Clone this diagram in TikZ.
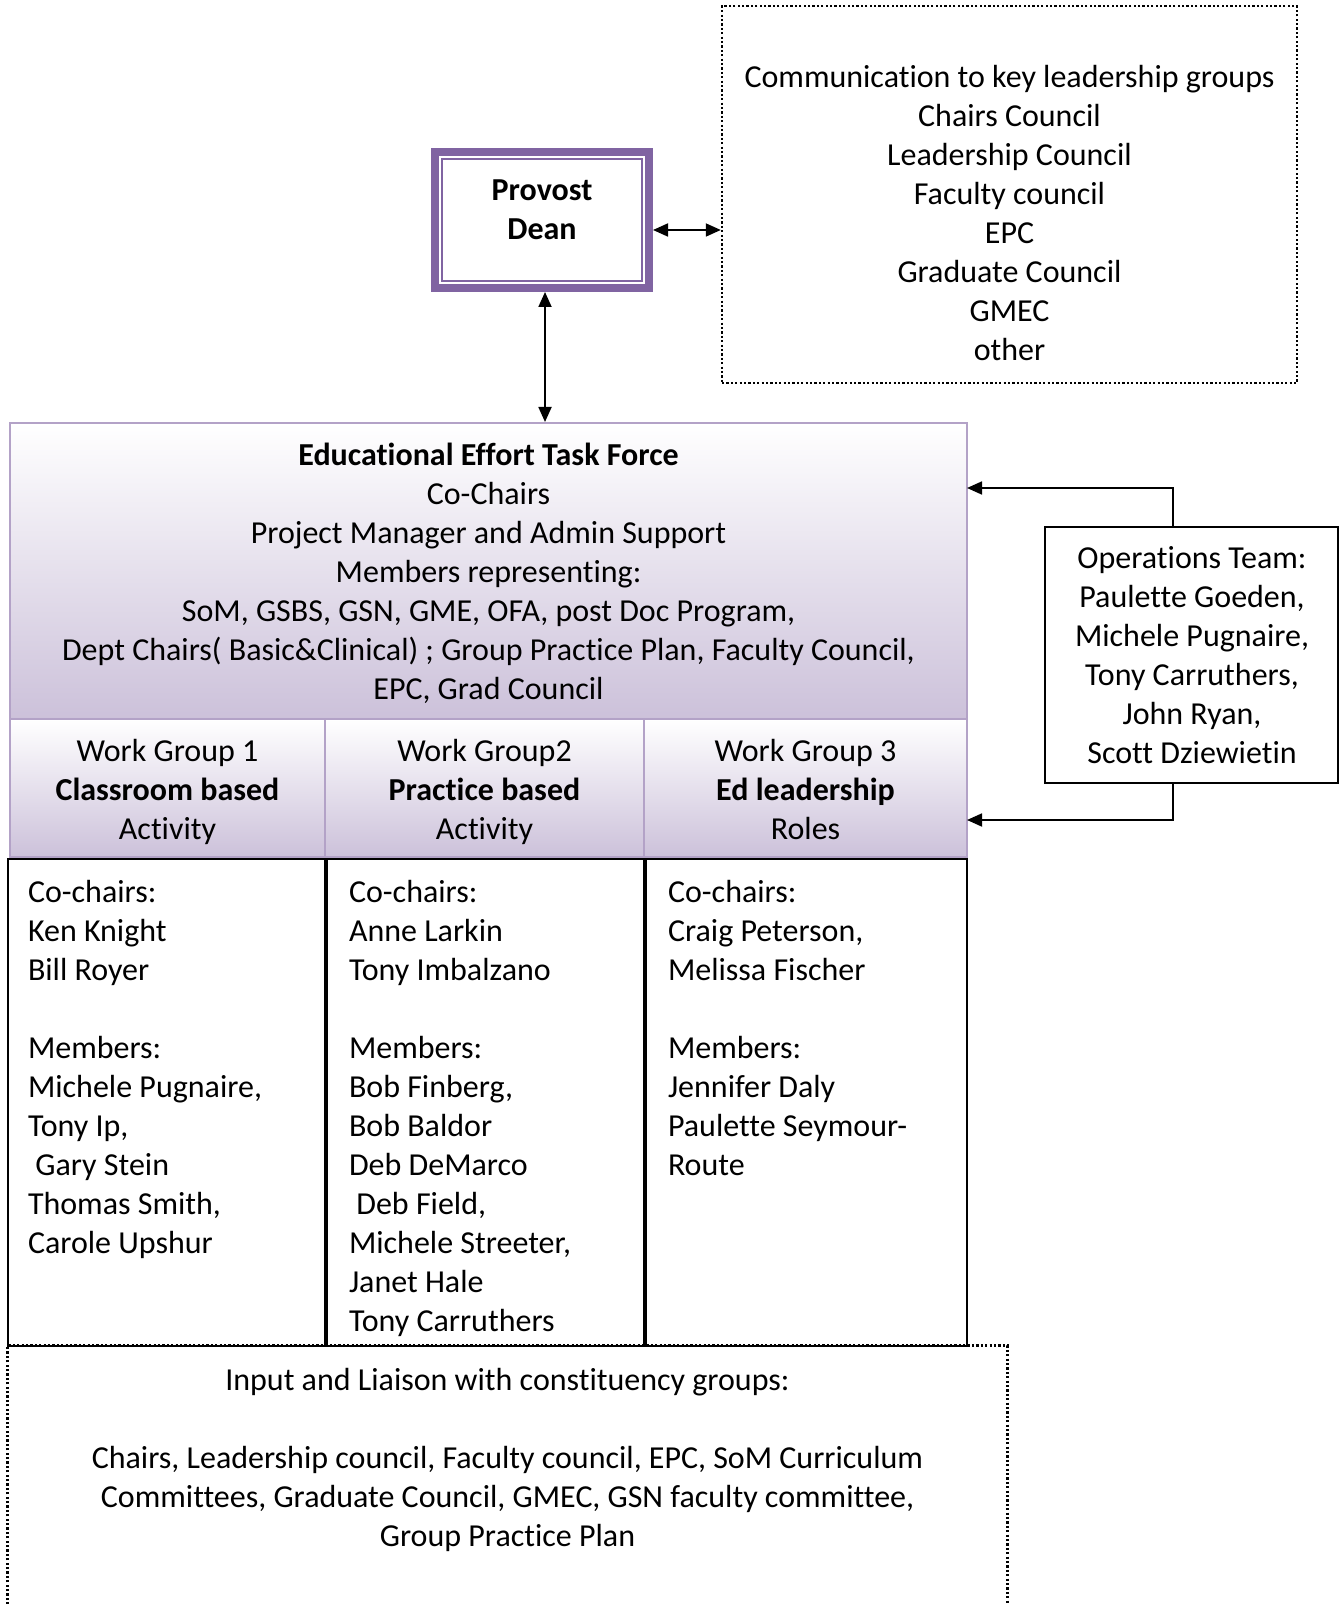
\documentclass[tikz,border=0pt]{standalone}
\usepackage{fontspec}
\setmainfont{Carlito}[Ligatures={NoCommon}]
\usetikzlibrary{arrows.meta}
\definecolor{provpurple}{HTML}{8064A2}
\definecolor{tfborder}{HTML}{B3A2C7}
\definecolor{tfshade}{HTML}{CCC1DA}
\tikzset{
  txt/.style={font=\fontsize{16pt}{19.5pt}\selectfont, inner sep=0pt, outer sep=0pt},
  emptybox/.style={inner sep=0pt, anchor=center},
  dotline/.style={draw=black, line width=1.2pt, dash pattern=on 1.1pt off 1.1pt},
  dotbox/.style={emptybox, dotline},
  plainbox/.style={emptybox, draw=black, line width=0.8pt},
  shadebox/.style={emptybox, draw=tfborder, line width=1pt, top color=white, bottom color=tfshade},
  mytip/.tip={Triangle[length=7.5pt,width=6.5pt]},
  conn/.style={line width=0.9pt, black},
}
\begin{document}
\begin{tikzpicture}[x=0.5pt,y=-0.5pt]
\useasboundingbox (0,0) rectangle (1340,1604);

% Provost / Dean
\node[emptybox, draw=provpurple, line width=4pt, minimum width=107pt, minimum height=68pt] (prov) at (542,220) {};
\node[emptybox, draw=provpurple, line width=1pt, minimum width=100pt, minimum height=61pt] (provin) at (542,220) {};
\node[txt, align=center, anchor=base, font=\fontsize{16pt}{19.5pt}\selectfont\bfseries] (provtxt) at (542,240) {Provost\\Dean};

% Communication box
\node[dotbox, minimum width=287.5pt, minimum height=188.5pt] (comm) at (1009.5,194.5) {};
\node[txt, align=center, anchor=base] (commtxt) at (1009.5,361) {Communication to key leadership groups\\Chairs Council\\Leadership Council\\Faculty council\\EPC\\Graduate Council\\GMEC\\other};

% Task force
\node[shadebox, minimum width=478.5pt, minimum height=148pt] (tf) at (488.5,571) {};
\node[txt, align=center, anchor=base] (tftxt) at (488.5,699) {\textbf{Educational Effort Task Force}\\Co-Chairs\\Project Manager and Admin Support\\Members representing:\\SoM, GSBS, GSN, GME, OFA, post Doc Program,\\Dept Chairs( Basic\&Clinical) ; Group Practice Plan, Faculty Council,\\EPC, Grad Council};

% Work group headers
\node[shadebox, minimum width=157.5pt, minimum height=69pt] (wg1) at (167.5,788) {};
\node[shadebox, minimum width=159.5pt, minimum height=69pt] (wg2) at (484.5,788) {};
\node[shadebox, minimum width=161.5pt, minimum height=69pt] (wg3) at (805.5,788) {};
\node[txt, align=center, anchor=base] (wg1txt) at (167.5,839) {Work Group 1\\\textbf{Classroom based}\\Activity};
\node[txt, align=center, anchor=base] (wg2txt) at (484.5,839) {Work Group2\\\textbf{Practice based}\\Activity};
\node[txt, align=center, anchor=base] (wg3txt) at (805.5,839) {Work Group 3\\\textbf{Ed leadership}\\Roles};

% Member boxes
\node[plainbox, minimum width=158.5pt, minimum height=243.5pt] (mem1) at (166.5,1102.5) {};
\node[plainbox, minimum width=158.5pt, minimum height=243.5pt] (mem2) at (485.5,1102.5) {};
\node[plainbox, minimum width=160.5pt, minimum height=243.5pt] (mem3) at (806.5,1102.5) {};
\node[txt, align=left, anchor=base west] (mem1txt) at (28,1253) {Co-chairs:\\Ken Knight\\Bill Royer\\[19.5pt]Members:\\Michele Pugnaire,\\Tony Ip,\\\hspace*{0.23em}Gary Stein\\Thomas Smith,\\Carole Upshur};
\node[txt, align=left, anchor=base west] (mem2txt) at (349,1331) {Co-chairs:\\Anne Larkin\\Tony Imbalzano\\[19.5pt]Members:\\Bob Finberg,\\Bob Baldor\\Deb DeMarco\\\hspace*{0.23em}Deb Field,\\Michele Streeter,\\Janet Hale\\Tony Carruthers};
\node[txt, align=left, anchor=base west] (mem3txt) at (668,1175) {Co-chairs:\\Craig Peterson,\\Melissa Fischer\\[19.5pt]Members:\\Jennifer Daly\\Paulette Seymour-\\Route};

% Operations team
\node[plainbox, minimum width=146.5pt, minimum height=128pt] (ops) at (1191.5,655) {};
\node[txt, align=center, anchor=base] (opstxt) at (1192,763) {Operations Team:\\Paulette Goeden,\\Michele Pugnaire,\\Tony Carruthers,\\John Ryan,\\Scott Dziewietin};

% Input and liaison box (open at the bottom edge of the page)
\node[emptybox, minimum width=499.5pt, minimum height=129pt] (inp) at (507.5,1475) {};
\draw[dotline] (inp.south west) -- (inp.north west) -- (inp.north east) -- (inp.south east);
\node[txt, align=center, anchor=base] (inptxt) at (507.5,1546) {Input and Liaison with constituency groups:\\[19.5pt]Chairs, Leadership council, Faculty council, EPC, SoM Curriculum\\Committees, Graduate Council, GMEC, GSN faculty committee,\\Group Practice Plan};

% Connectors
\coordinate (hy) at (0,230);
\coordinate (vx) at (1173,0);
\coordinate (px) at (545,0);
\coordinate (tfin) at (967,488);
\coordinate (wgin) at (967,820);
\draw[conn, {mytip}-{mytip}] (prov.east |- hy) -- (comm.west |- hy);
\draw[conn, {mytip}-{mytip}] (prov.south -| px) -- (tf.north -| px);
\draw[conn, -{mytip}] (ops.north -| vx) |- (tfin);
\draw[conn, -{mytip}] (ops.south -| vx) |- (wgin);
\end{tikzpicture}
\end{document}
